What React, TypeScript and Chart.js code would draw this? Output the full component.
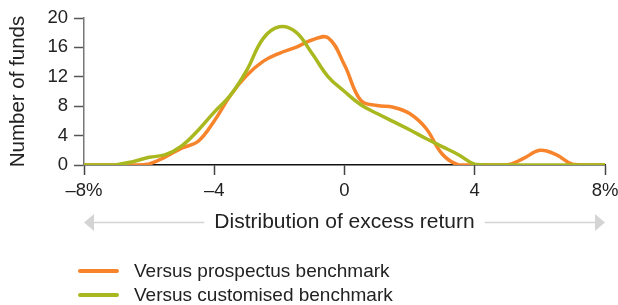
import React, { useEffect, useRef } from "react";
import { Chart, registerables } from "chart.js";

Chart.register(...registerables);

const xValues = [
  -8, -7.5, -7, -6.5, -6, -5.5, -5, -4.5, -4, -3.5, -3, -2.5, -2, -1.5, -1, -0.5,
  0, 0.5, 1, 1.5, 2, 2.5, 3, 3.5, 4, 4.5, 5, 5.5, 6, 6.5, 7, 7.5, 8,
];
const prospectusValues = [
  0, 0, 0, 0, 0.15, 1.1, 2.3, 3.2, 6.0, 9.5, 12.2, 14.1, 15.2, 16.0, 17.0, 17.3,
  13.6, 8.8, 8.1, 7.85, 7.0, 5.0, 1.5, 0, 0, 0, 0, 0.9, 2.0, 1.4, 0.1, 0, 0,
];
const customisedValues = [
  0, 0, 0.05, 0.45, 1.05, 1.4, 2.6, 4.7, 7.2, 9.5, 12.9, 17.2, 18.8, 18.1, 15.2, 12.0,
  10.0, 8.2, 7.0, 5.9, 4.8, 3.6, 2.5, 1.4, 0.1, 0, 0, 0, 0, 0, 0, 0, 0,
];
const seriesNames = ["Versus prospectus benchmark", "Versus customised benchmark"];
const seriesColors = ["#F7842A", "#A9B81F"];
const xTitle = "Distribution of excess return";
const yTitle = "Number of funds";

const FONT = "'Liberation Sans', Arial, sans-serif";
const TEXT = "#222";
const TITLE_SIZE = 21;

function tickLabel(v: number): string {
  if (v === -8) return "\u20138%";
  if (v === 8) return "8%";
  if (v < 0) return "\u2013" + Math.abs(v);
  return String(v);
}

const arrowPlugin = {
  id: "arrowTitle",
  afterDraw(chart: any) {
    const { ctx, chartArea } = chart;
    const xs = chart.scales.x;
    ctx.save();
    ctx.font = `${TITLE_SIZE}px ${FONT}`;
    const w = ctx.measureText(xTitle).width;
    const cx = (xs.left + xs.right) / 2;
    const y = 222.5;
    const left = chartArea.left;
    const right = chartArea.right;
    const gap = 10;
    ctx.strokeStyle = "#d4d4d4";
    ctx.fillStyle = "#d4d4d4";
    ctx.lineWidth = 1.5;
    ctx.beginPath();
    ctx.moveTo(left + 8, y);
    ctx.lineTo(cx - w / 2 - gap, y);
    ctx.moveTo(cx + w / 2 + gap, y);
    ctx.lineTo(right - 8, y);
    ctx.stroke();
    ctx.beginPath();
    ctx.moveTo(left, y);
    ctx.lineTo(left + 10, y - 8.5);
    ctx.lineTo(left + 10, y + 8.5);
    ctx.closePath();
    ctx.fill();
    ctx.beginPath();
    ctx.moveTo(right, y);
    ctx.lineTo(right - 10, y - 8.5);
    ctx.lineTo(right - 10, y + 8.5);
    ctx.closePath();
    ctx.fill();
    ctx.restore();
  },
};

export default function App() {
  const ref = useRef<HTMLCanvasElement | null>(null);

  useEffect(() => {
    document.body.style.margin = "0";
    const canvas = ref.current;
    if (!canvas) return;
    const chart = new Chart(canvas, {
      type: "line",
      data: {
        datasets: [
          {
            label: seriesNames[0],
            data: xValues.map((x, i) => ({ x, y: prospectusValues[i] })),
            borderColor: seriesColors[0],
            backgroundColor: seriesColors[0],
            borderWidth: 3.5,
            pointRadius: 0,
            tension: 0.4,
            order: 1,
          },
          {
            label: seriesNames[1],
            data: xValues.map((x, i) => ({ x, y: customisedValues[i] })),
            borderColor: seriesColors[1],
            backgroundColor: seriesColors[1],
            borderWidth: 3.5,
            pointRadius: 0,
            tension: 0.4,
            order: 0,
          },
        ],
      },
      options: {
        animation: false,
        responsive: false,
        layout: { padding: { left: 0, right: 13, top: 18, bottom: 0 } },
        plugins: {
          legend: { display: false },
          tooltip: { enabled: false },
        },
        scales: {
          x: {
            type: "linear",
            min: -8,
            max: 8,
            afterFit: (s: any) => {
              s.height = 140;
              s.paddingLeft = 0;
              s.paddingRight = 0;
            },
            ticks: {
              stepSize: 4,
              padding: 5,
              color: TEXT,
              font: { family: FONT, size: 18.5 },
              callback: (v: any) => tickLabel(Number(v)),
              maxRotation: 0,
            },
            grid: {
              drawOnChartArea: false,
              drawTicks: true,
              tickLength: 10,
              tickColor: "#444",
              tickWidth: 1.5,
            },
            border: { display: true, color: "#111", width: 1.5 },
            title: {
              display: true,
              text: xTitle,
              color: TEXT,
              font: { family: FONT, size: TITLE_SIZE },
              padding: { top: 0, bottom: 70 },
            },
          },
          y: {
            min: 0,
            max: 20,
            afterFit: (s: any) => {
              s.width = 84;
            },
            ticks: {
              stepSize: 4,
              padding: 6,
              color: TEXT,
              font: { family: FONT, size: 18.5 },
            },
            grid: {
              drawOnChartArea: false,
              drawTicks: true,
              tickLength: 10,
              tickColor: "#555",
              tickWidth: 1.5,
            },
            border: { display: true, color: "#777", width: 1.5 },
            title: {
              display: true,
              text: yTitle,
              color: TEXT,
              font: { family: FONT, size: 20.5 },
              padding: { top: 6, bottom: 0 },
            },
          },
        },
      },
      plugins: [arrowPlugin],
    });
    return () => chart.destroy();
  }, []);

  const legendRow = (i: number, top: number) => (
    <div
      key={i}
      style={{
        position: "absolute",
        left: 78,
        top: top,
        height: 24,
        display: "flex",
        alignItems: "center",
        fontFamily: FONT,
        fontSize: 19,
        color: TEXT,
        whiteSpace: "nowrap",
      }}
    >
      <span
        style={{
          display: "inline-block",
          width: 41,
          height: 4,
          borderRadius: 2,
          background: seriesColors[i],
          marginRight: 15,
        }}
      />
      <span>{seriesNames[i]}</span>
    </div>
  );

  return (
    <div style={{ position: "relative", width: 618, height: 305, background: "#fff" }}>
      <canvas ref={ref} width={618} height={305} style={{ display: "block" }} />
      {legendRow(0, 259)}
      {legendRow(1, 283)}
    </div>
  );
}
